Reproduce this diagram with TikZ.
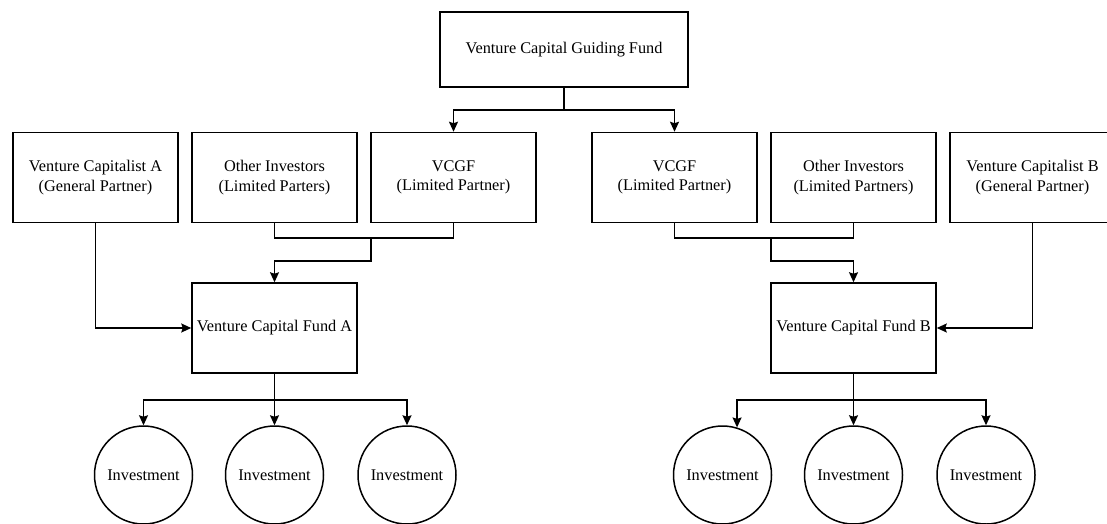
\documentclass[tikz,border=0pt]{standalone}
\usepackage{fontspec}
\setmainfont{Liberation Serif}
\usetikzlibrary{arrows.meta}
\begin{document}
\begin{tikzpicture}[x=1pt,y=-1pt,
  txt/.style={font=\fontsize{16.3}{19.5}\selectfont},
  box/.style={txt,draw,line width=1.5pt,minimum width=165pt,minimum height=90pt,
              inner sep=0pt,align=center},
  topbox/.style={box,minimum width=248pt,minimum height=75pt},
  inv/.style={txt,draw,circle,line width=1.5pt,minimum size=98pt,inner sep=0pt},
  link/.style={line width=1.5pt},
  arr/.style={link,-{Stealth[length=10pt,width=9pt,inset=1.5pt]}}]
\useasboundingbox (0,0) rectangle (1107,523);
\clip (0,0) rectangle (1107,523);

% guiding fund
\node[topbox] (guide) at (564,49.5) {Venture Capital Guiding Fund};

% partners of fund A and fund B
\node[box] (vcA) at (95.5,177.5)  {Venture Capitalist A\\(General Partner)};
\node[box] (oiA) at (274.5,177.5) {Other Investors\\(Limited Parters)};
\node[box] (vgA) at (453.5,177.5) {VCGF\\(Limited Partner)};
\node[box] (vgB) at (674.5,177.5) {VCGF\\(Limited Partner)};
\node[box] (oiB) at (853.5,177.5) {Other Investors\\(Limited Partners)};
\node[box] (vcB) at (1032.5,177.5) {Venture Capitalist B\\(General Partner)};

% the two funds
\node[box] (fA) at (274.5,328) {Venture Capital Fund A};
\node[box] (fB) at (853.5,328) {Venture Capital Fund B};

% investments
\node[inv] (iA1) at (143.5,475) {Investment};
\node[inv] (iA2) at (274.5,475) {Investment};
\node[inv] (iA3) at (407,475)   {Investment};
\node[inv] (iB1) at (722.5,475) {Investment};
\node[inv] (iB2) at (853.5,475) {Investment};
\node[inv] (iB3) at (986,475)   {Investment};

% guiding fund -> both VCGF stakes
\coordinate (g0) at (564,110);
\draw[link] (guide.south) -- (g0);
\draw[arr] (g0) -| (vgA.north);
\draw[arr] (g0) -| (vgB.north);

% limited partners -> funds
\coordinate (mA) at (371,238);
\coordinate (mB) at (771,238);
\draw[link] (oiA.south) |- (mA) -| (vgA.south);
\draw[arr] (mA) -- ++(0,23) -| (fA.north);
\draw[link] (vgB.south) |- (mB) -| (oiB.south);
\draw[arr] (mB) -- ++(0,23) -| (fB.north);

% general partners -> funds
\draw[arr] (vcA.south) |- (fA.west);
\draw[arr] (vcB.south) |- (fB.east);

% funds -> investments
\coordinate (dA) at (274.5,400);
\coordinate (dB) at (853.5,400);
\draw[link] (fA.south) -- (dA);
\draw[arr] (dA) -| (iA1.north);
\draw[arr] (dA) -- (iA2.north);
\draw[arr] (dA) -| (iA3.north);
\draw[link] (fB.south) -- (dB);
\draw[arr] (dB) -| (iB1.73);
\draw[arr] (dB) -- (iB2.north);
\draw[arr] (dB) -| (iB3.north);
\end{tikzpicture}
\end{document}
